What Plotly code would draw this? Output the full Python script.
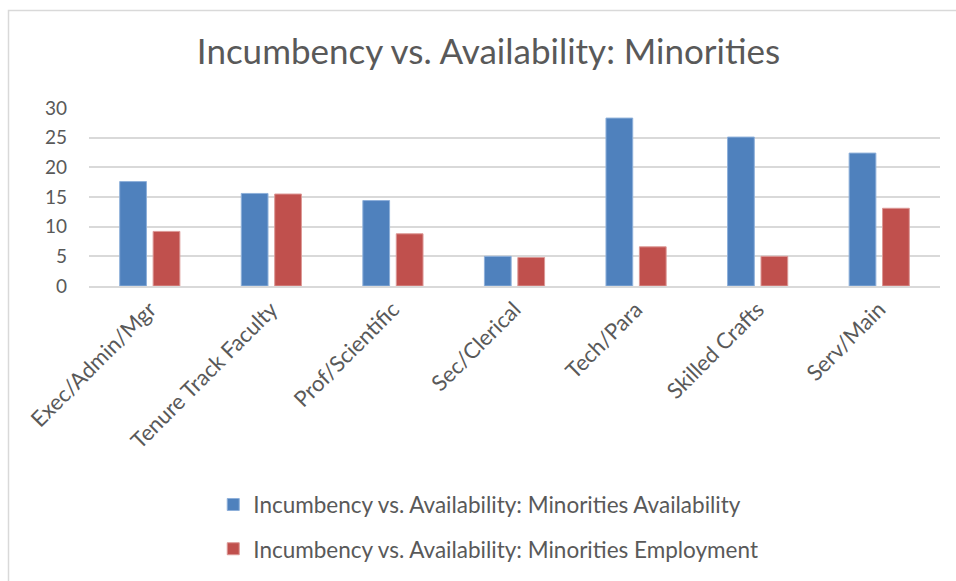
import plotly.graph_objects as go

categories = ["Exec/Admin/Mgr", "Tenure Track Faculty", "Prof/Scientific",
              "Sec/Clerical", "Tech/Para", "Skilled Crafts", "Serv/Main"]
availability = [17.6, 15.6, 14.4, 5.0, 28.3, 25.1, 22.4]
employment = [9.2, 15.5, 8.8, 4.8, 6.6, 5.0, 13.1]
y_ticks = [0, 5, 10, 15, 20, 25, 30]

title_text = "Incumbency vs. Availability: Minorities"
FONT = "Lato"
TEXT_COLOR = "#595959"
GRID = "#D9D9D9"

fig = go.Figure()
fig.add_trace(go.Bar(
    x=categories, y=availability,
    name=title_text + " Availability",
    legendgroup="a",
    marker=dict(color="#4F81BD", line=dict(color="#8EB0DA", width=1)),
))
fig.add_trace(go.Bar(
    x=categories, y=employment,
    name=title_text + " Employment",
    legendgroup="b",
    marker=dict(color="#C0504D", line=dict(color="#DC9896", width=1)),
))

fig.update_layout(
    width=956, height=581,
    margin=dict(l=89, r=16, t=108, b=294),
    paper_bgcolor="white", plot_bgcolor="white",
    barmode="group", bargap=0.45, bargroupgap=0.2,
    title=dict(text=title_text, x=0.511, xanchor="center",
               y=1 - 52 / 581, yanchor="middle",
               font=dict(family=FONT, size=35, color=TEXT_COLOR)),
    font=dict(family=FONT, color=TEXT_COLOR),
    legend=dict(x=0.146, xanchor="left", y=-1.097, yanchor="top",
                orientation="v", traceorder="grouped", tracegroupgap=12,
                font=dict(size=22.5, color=TEXT_COLOR),
                itemwidth=30),
    xaxis=dict(tickangle=-45, tickfont=dict(size=22, color=TEXT_COLOR),
               showline=True, linecolor=GRID, linewidth=2,
               showgrid=False, ticks=""),
    yaxis=dict(range=[0, 30], tickvals=y_ticks,
               tickfont=dict(size=19, color=TEXT_COLOR),
               showgrid=True, gridcolor=GRID, gridwidth=1.5,
               zeroline=False, ticklabelstandoff=21),
    shapes=[dict(type="rect", xref="paper", yref="paper",
                 x0=(8.5 - 89) / 851, x1=1.2,
                 y0=-2.0, y1=(287 - 10) / 179,
                 line=dict(color=GRID, width=1.5), layer="below")],
)

fig.write_html("out.html")
